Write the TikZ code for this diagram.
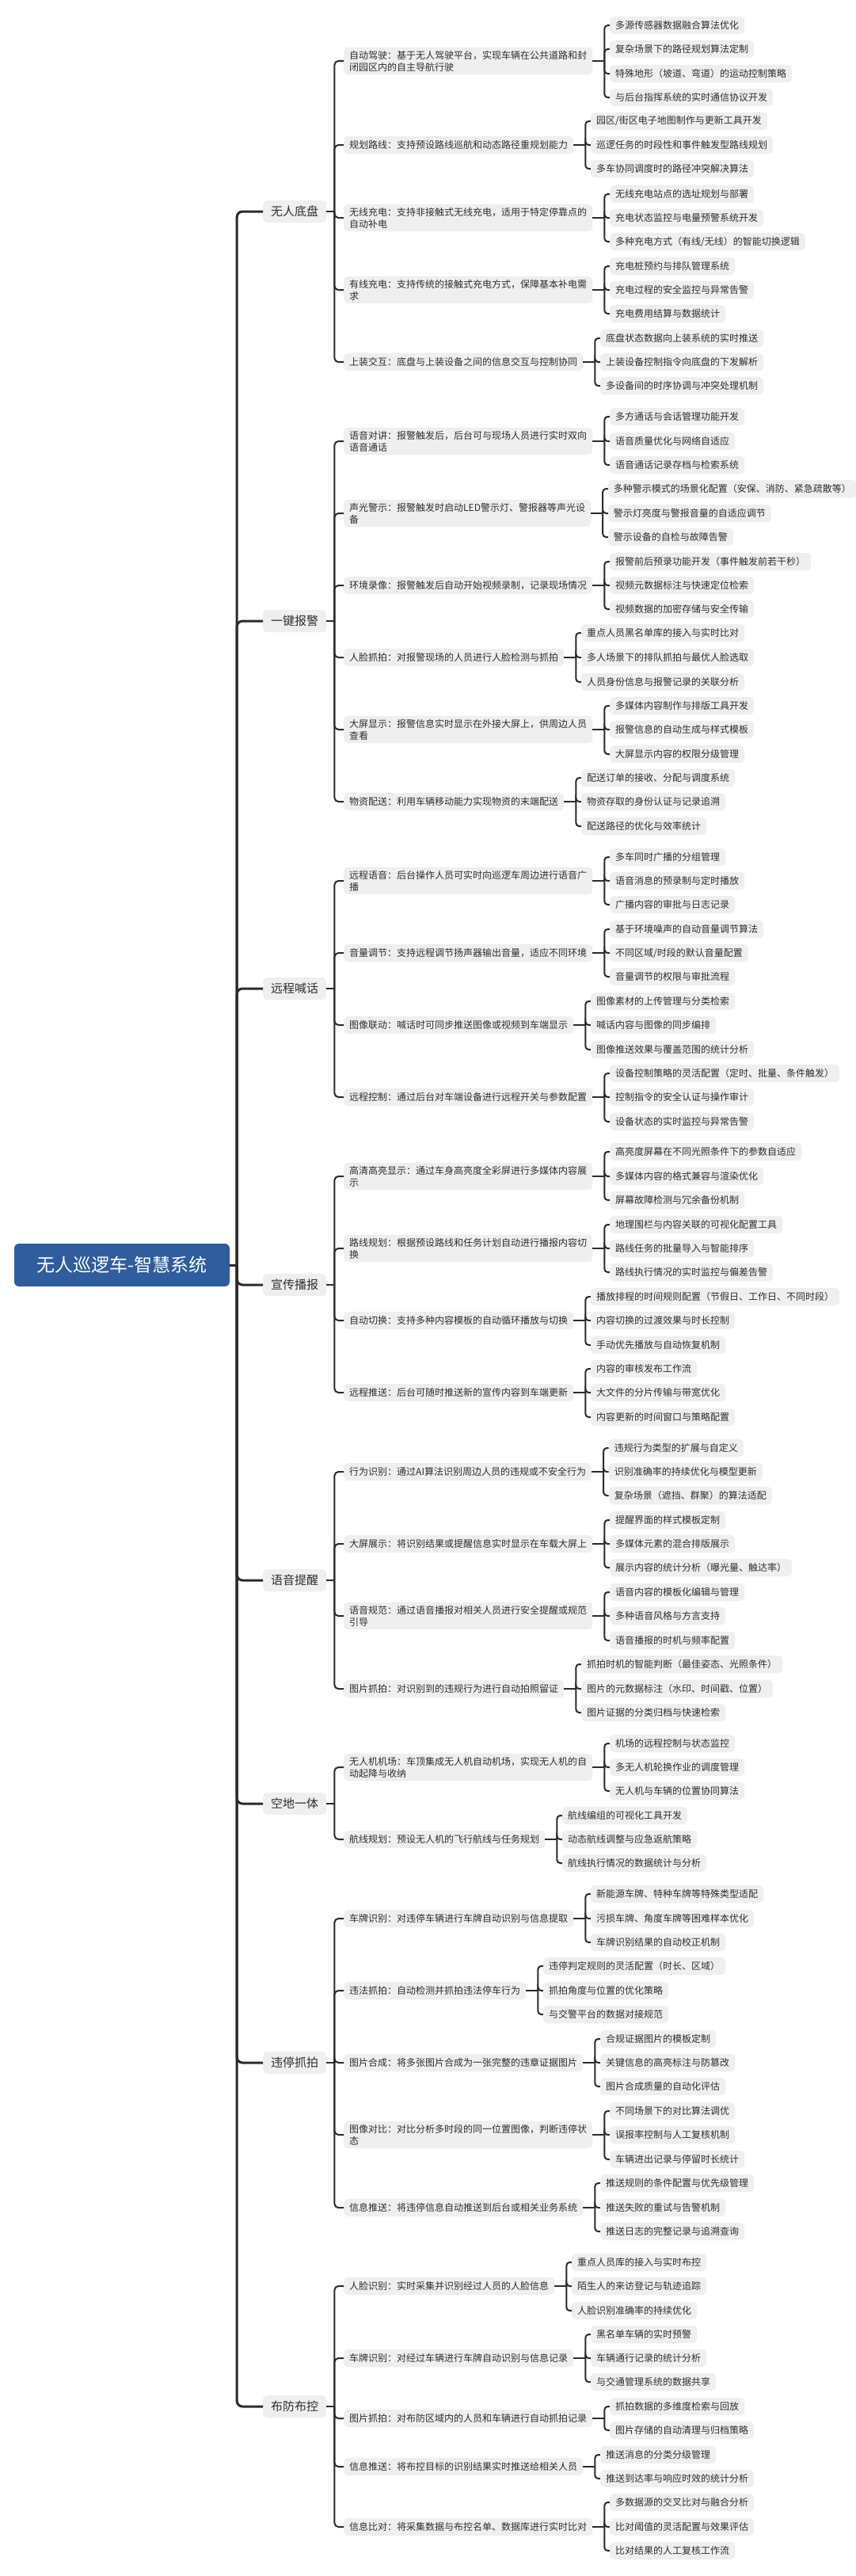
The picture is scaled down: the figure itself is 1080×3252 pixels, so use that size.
\documentclass[tikz,border=0pt]{standalone}
\usepackage{fontspec}
\setmainfont{Noto Sans CJK SC}
\usetikzlibrary{calc}
\definecolor{boxfill}{HTML}{EFEFEF}
\definecolor{txt}{HTML}{2E2E2E}
\definecolor{lin}{HTML}{2B2B2B}
\definecolor{rootblue}{HTML}{2F5D9E}
\tikzset{
  rootbox/.style={fill=rootblue, text=white, rounded corners=6pt, font=\fontsize{23}{27}\selectfont, minimum height=54pt, minimum width=272pt, inner sep=0pt},
  lonebox/.style={fill=boxfill, text=txt, rounded corners=5pt, font=\fontsize{15}{18}\selectfont, minimum height=28pt, inner xsep=10pt, inner ysep=0pt, anchor=west},
  ltwo/.style={fill=boxfill, text=txt, rounded corners=5pt, font=\fontsize{12}{15}\selectfont, align=left, minimum height=22pt, inner xsep=7pt, inner ysep=4pt, anchor=west},
  leaf/.style={ltwo},
  lonewire/.style={draw=lin, line width=3pt, rounded corners=7pt},
  ltwowire/.style={draw=lin, line width=2pt, rounded corners=5pt},
  leafwire/.style={draw=lin, line width=2pt, rounded corners=4pt},
}
\newcommand\mysub[4]{%
  \node[ltwo] (#2) at (434,#3) {#4};
  \draw[ltwowire] (#1.east) ++(10,0) |- (#2.west);
}
\newcommand\myleaves[2]{%
  \path (#1.east) ++(21.5,0) coordinate (#1-x);
  \draw[leafwire] (#1.east) -- ++(15,0);
  \foreach \yy/\lt [count=\k] in {#2} {
    \node[leaf] (#1-\k) at (#1-x |- 0,\yy) {\lt};
    \draw[leafwire] (#1.east) ++(15,0) |- (#1-\k.west);
  }
}
\newcommand\mymain[3]{%
  \node[lonebox] (#1) at (332,#2) {#3};
  \draw[lonewire] (root.east) ++(9,0) |- (#1.west);
  \draw[ltwowire] (#1.east) -- ++(10,0);
}
\begin{document}
\begin{tikzpicture}[x=1pt,y=-1pt]
\fill[white] (0,0) rectangle (1080,3252);
\useasboundingbox (0,0) rectangle (1080,3252);

\node[rootbox] (root) at (154,1597) {无人巡逻车-智慧系统};
\draw[lonewire] (root.east) -- ++(9,0);

% ---------------- 无人底盘
\mymain{A}{267}{无人底盘}
\mysub{A}{A1}{77}{自动驾驶：基于无人驾驶平台，实现车辆在公共道路和封\\闭园区内的自主导航行驶}
\myleaves{A1}{32/{多源传感器数据融合算法优化}, 62/{复杂场景下的路径规划算法定制}, 93/{特殊地形（坡道、弯道）的运动控制策略}, 123/{与后台指挥系统的实时通信协议开发}}
\mysub{A}{A2}{183}{规划路线：支持预设路线巡航和动态路径重规划能力}
\myleaves{A2}{153/{园区/街区电子地图制作与更新工具开发}, 183/{巡逻任务的时段性和事件触发型路线规划}, 213/{多车协同调度时的路径冲突解决算法}}
\mysub{A}{A3}{275}{无线充电：支持非接触式无线充电，适用于特定停靠点的\\自动补电}
\myleaves{A3}{245/{无线充电站点的选址规划与部署}, 275/{充电状态监控与电量预警系统开发}, 305/{多种充电方式（有线/无线）的智能切换逻辑}}
\mysub{A}{A4}{366}{有线充电：支持传统的接触式充电方式，保障基本补电需\\求}
\myleaves{A4}{336/{充电桩预约与排队管理系统}, 366/{充电过程的安全监控与异常告警}, 396/{充电费用结算与数据统计}}
\mysub{A}{A5}{457}{上装交互：底盘与上装设备之间的信息交互与控制协同}
\myleaves{A5}{427/{底盘状态数据向上装系统的实时推送}, 457/{上装设备控制指令向底盘的下发解析}, 487/{多设备间的时序协调与冲突处理机制}}

% ---------------- 一键报警
\mymain{B}{784}{一键报警}
\mysub{B}{B1}{557}{语音对讲：报警触发后，后台可与现场人员进行实时双向\\语音通话}
\myleaves{B1}{526/{多方通话与会话管理功能开发}, 557/{语音质量优化与网络自适应}, 587/{语音通话记录存档与检索系统}}
\mysub{B}{B2}{648}{声光警示：报警触发时启动LED警示灯、警报器等声光设\\备}
\myleaves{B2}{617/{多种警示模式的场景化配置（安保、消防、紧急疏散等）}, 648/{警示灯亮度与警报音量的自适应调节}, 678/{警示设备的自检与故障告警}}
\mysub{B}{B3}{739}{环境录像：报警触发后自动开始视频录制，记录现场情况}
\myleaves{B3}{709/{报警前后预录功能开发（事件触发前若干秒）}, 739/{视频元数据标注与快速定位检索}, 769/{视频数据的加密存储与安全传输}}
\mysub{B}{B4}{830}{人脸抓拍：对报警现场的人员进行人脸检测与抓拍}
\myleaves{B4}{799/{重点人员黑名单库的接入与实时比对}, 830/{多人场景下的排队抓拍与最优人脸选取}, 861/{人员身份信息与报警记录的关联分析}}
\mysub{B}{B5}{921}{大屏显示：报警信息实时显示在外接大屏上，供周边人员\\查看}
\myleaves{B5}{891/{多媒体内容制作与排版工具开发}, 921/{报警信息的自动生成与样式模板}, 952/{大屏显示内容的权限分级管理}}
\mysub{B}{B6}{1012}{物资配送：利用车辆移动能力实现物资的末端配送}
\myleaves{B6}{982/{配送订单的接收、分配与调度系统}, 1012/{物资存取的身份认证与记录追溯}, 1043/{配送路径的优化与效率统计}}

% ---------------- 远程喊话
\mymain{C}{1248}{远程喊话}
\mysub{C}{C1}{1112}{远程语音：后台操作人员可实时向巡逻车周边进行语音广\\播}
\myleaves{C1}{1082/{多车同时广播的分组管理}, 1112/{语音消息的预录制与定时播放}, 1142/{广播内容的审批与日志记录}}
\mysub{C}{C2}{1203}{音量调节：支持远程调节扬声器输出音量，适应不同环境}
\myleaves{C2}{1173/{基于环境噪声的自动音量调节算法}, 1203/{不同区域/时段的默认音量配置}, 1233/{音量调节的权限与审批流程}}
\mysub{C}{C3}{1294}{图像联动：喊话时可同步推送图像或视频到车端显示}
\myleaves{C3}{1264/{图像素材的上传管理与分类检索}, 1294/{喊话内容与图像的同步编排}, 1325/{图像推送效果与覆盖范围的统计分析}}
\mysub{C}{C4}{1385}{远程控制：通过后台对车端设备进行远程开关与参数配置}
\myleaves{C4}{1355/{设备控制策略的灵活配置（定时、批量、条件触发）}, 1385/{控制指令的安全认证与操作审计}, 1416/{设备状态的实时监控与异常告警}}

% ---------------- 宣传播报
\mymain{D}{1622}{宣传播报}
\mysub{D}{D1}{1485}{高清高亮显示：通过车身高亮度全彩屏进行多媒体内容展\\示}
\myleaves{D1}{1454/{高亮度屏幕在不同光照条件下的参数自适应}, 1485/{多媒体内容的格式兼容与渲染优化}, 1515/{屏幕故障检测与冗余备份机制}}
\mysub{D}{D2}{1576}{路线规划：根据预设路线和任务计划自动进行播报内容切\\换}
\myleaves{D2}{1546/{地理围栏与内容关联的可视化配置工具}, 1576/{路线任务的批量导入与智能排序}, 1606/{路线执行情况的实时监控与偏差告警}}
\mysub{D}{D3}{1667}{自动切换：支持多种内容模板的自动循环播放与切换}
\myleaves{D3}{1637/{播放排程的时间规则配置（节假日、工作日、不同时段）}, 1667/{内容切换的过渡效果与时长控制}, 1698/{手动优先播放与自动恢复机制}}
\mysub{D}{D4}{1758}{远程推送：后台可随时推送新的宣传内容到车端更新}
\myleaves{D4}{1728/{内容的审核发布工作流}, 1758/{大文件的分片传输与带宽优化}, 1789/{内容更新的时间窗口与策略配置}}

% ---------------- 语音提醒
\mymain{E}{1995}{语音提醒}
\mysub{E}{E1}{1858}{行为识别：通过AI算法识别周边人员的违规或不安全行为}
\myleaves{E1}{1828/{违规行为类型的扩展与自定义}, 1858/{识别准确率的持续优化与模型更新}, 1888/{复杂场景（遮挡、群聚）的算法适配}}
\mysub{E}{E2}{1949}{大屏展示：将识别结果或提醒信息实时显示在车载大屏上}
\myleaves{E2}{1919/{提醒界面的样式模板定制}, 1949/{多媒体元素的混合排版展示}, 1979/{展示内容的统计分析（曝光量、触达率）}}
\mysub{E}{E3}{2040}{语音规范：通过语音播报对相关人员进行安全提醒或规范\\引导}
\myleaves{E3}{2010/{语音内容的模板化编辑与管理}, 2040/{多种语音风格与方言支持}, 2071/{语音播报的时机与频率配置}}
\mysub{E}{E4}{2132}{图片抓拍：对识别到的违规行为进行自动拍照留证}
\myleaves{E4}{2101/{抓拍时机的智能判断（最佳姿态、光照条件）}, 2132/{图片的元数据标注（水印、时间戳、位置）}, 2162/{图片证据的分类归档与快速检索}}

% ---------------- 空地一体
\mymain{F}{2277}{空地一体}
\mysub{F}{F1}{2231}{无人机机场：车顶集成无人机自动机场，实现无人机的自\\动起降与收纳}
\myleaves{F1}{2201/{机场的远程控制与状态监控}, 2231/{多无人机轮换作业的调度管理}, 2261/{无人机与车辆的位置协同算法}}
\mysub{F}{F2}{2322}{航线规划：预设无人机的飞行航线与任务规划}
\myleaves{F2}{2292/{航线编组的可视化工具开发}, 2322/{动态航线调整与应急返航策略}, 2352/{航线执行情况的数据统计与分析}}

% ---------------- 违停抓拍
\mymain{G}{2604}{违停抓拍}
\mysub{G}{G1}{2422}{车牌识别：对违停车辆进行车牌自动识别与信息提取}
\myleaves{G1}{2391/{新能源车牌、特种车牌等特殊类型适配}, 2422/{污损车牌、角度车牌等困难样本优化}, 2452/{车牌识别结果的自动校正机制}}
\mysub{G}{G2}{2513}{违法抓拍：自动检测并抓拍违法停车行为}
\myleaves{G2}{2482/{违停判定规则的灵活配置（时长、区域）}, 2513/{抓拍角度与位置的优化策略}, 2543/{与交警平台的数据对接规范}}
\mysub{G}{G3}{2604}{图片合成：将多张图片合成为一张完整的违章证据图片}
\myleaves{G3}{2574/{合规证据图片的模板定制}, 2604/{关键信息的高亮标注与防篡改}, 2634/{图片合成质量的自动化评估}}
\mysub{G}{G4}{2695}{图像对比：对比分析多时段的同一位置图像，判断违停状\\态}
\myleaves{G4}{2665/{不同场景下的对比算法调优}, 2695/{误报率控制与人工复核机制}, 2726/{车辆进出记录与停留时长统计}}
\mysub{G}{G5}{2787}{信息推送：将违停信息自动推送到后台或相关业务系统}
\myleaves{G5}{2756/{推送规则的条件配置与优先级管理}, 2787/{推送失败的重试与告警机制}, 2817/{推送日志的完整记录与追溯查询}}

% ---------------- 布防布控
\mymain{H}{3038}{布防布控}
\mysub{H}{H1}{2886}{人脸识别：实时采集并识别经过人员的人脸信息}
\myleaves{H1}{2856/{重点人员库的接入与实时布控}, 2886/{陌生人的来访登记与轨迹追踪}, 2917/{人脸识别准确率的持续优化}}
\mysub{H}{H2}{2977}{车牌识别：对经过车辆进行车牌自动识别与信息记录}
\myleaves{H2}{2947/{黑名单车辆的实时预警}, 2977/{车辆通行记录的统计分析}, 3007/{与交通管理系统的数据共享}}
\mysub{H}{H3}{3053}{图片抓拍：对布防区域内的人员和车辆进行自动抓拍记录}
\myleaves{H3}{3038/{抓拍数据的多维度检索与回放}, 3068/{图片存储的自动清理与归档策略}}
\mysub{H}{H4}{3114}{信息推送：将布控目标的识别结果实时推送给相关人员}
\myleaves{H4}{3099/{推送消息的分类分级管理}, 3129/{推送到达率与响应时效的统计分析}}
\mysub{H}{H5}{3190}{信息比对：将采集数据与布控名单、数据库进行实时比对}
\myleaves{H5}{3159/{多数据源的交叉比对与融合分析}, 3190/{比对阈值的灵活配置与效果评估}, 3220/{比对结果的人工复核工作流}}

\end{tikzpicture}
\end{document}
